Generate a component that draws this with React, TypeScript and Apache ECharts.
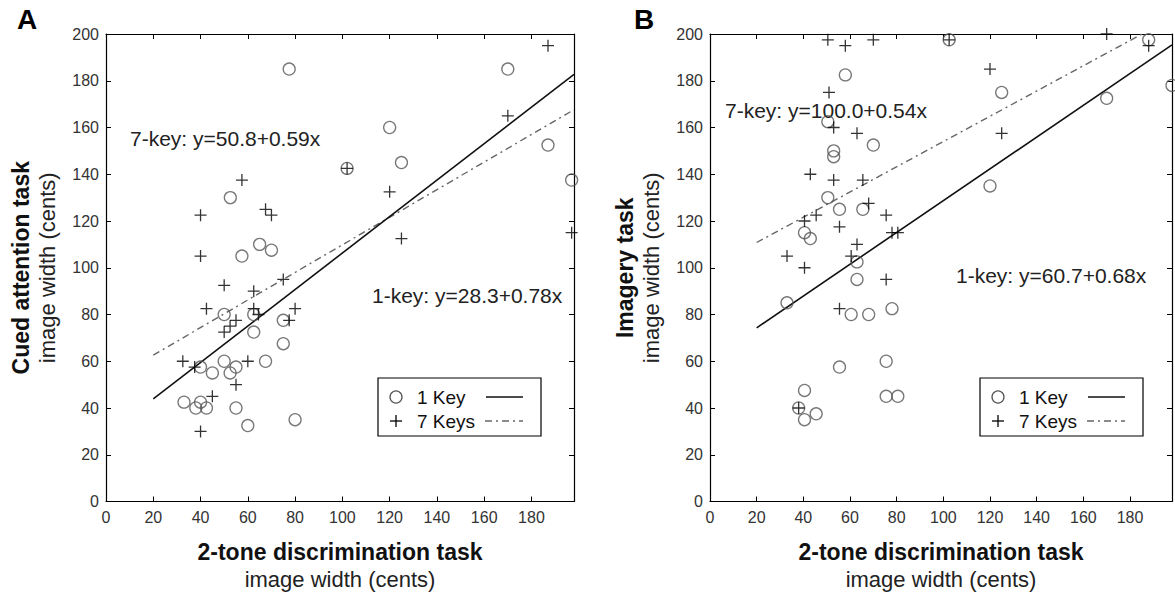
import React, { useEffect, useRef } from "react";
import * as echarts from "echarts";

const FONT = '"Liberation Sans", Arial, Helvetica, sans-serif';

// Panel A: Cued attention task vs 2-tone discrimination
const aOneKey: number[][] = [
  [77.5, 185], [52.6, 130], [65, 110], [70, 107.5], [57.5, 105], [102, 142.5],
  [50, 80], [62.5, 80], [62.5, 72.5], [75, 77.5], [75, 67.5], [50, 60],
  [40, 57.5], [45, 55], [52.5, 55], [55, 57.5], [67.5, 60], [33, 42.5],
  [38, 40], [40, 42.5], [42.5, 40], [55, 40], [60, 32.5], [80, 35],
  [120, 160], [125, 145], [170, 185], [187, 152.5], [197, 137.5],
];
const aSevenKeys: number[][] = [
  [57.5, 137.5], [40, 122.5], [67.5, 125], [70, 122.5], [40, 105], [50, 92.5],
  [62.5, 90], [75, 95], [42.5, 82.5], [62.5, 82.5], [64.5, 80], [80, 82.5],
  [77.5, 77.5], [55, 77.5], [52.5, 75], [50, 72.5], [32.5, 60], [37.5, 57.5],
  [60, 60], [55, 50], [45, 45], [40, 30], [102, 142.5], [120, 132.5],
  [125, 112.5], [170, 165], [187, 195], [197, 115],
];
// Panel B: Imagery task vs 2-tone discrimination
const bOneKey: number[][] = [
  [58, 182.5], [50.5, 162.5], [70, 152.5], [53, 150], [53, 147.5], [50.5, 130],
  [55.5, 125], [65.5, 125], [40.5, 115], [43, 112.5], [63, 102.5], [63, 95],
  [33, 85], [60.5, 80], [68, 80], [78, 82.5], [75.5, 60], [55.5, 57.5],
  [40.5, 47.5], [38, 40], [40.5, 35], [45.5, 37.5], [75.5, 45], [80.5, 45],
  [102.5, 197.5], [120, 135], [125, 175], [170, 172.5], [188, 197.5], [198, 178],
];
const bSevenKeys: number[][] = [
  [50.5, 197.5], [58, 195], [70, 197.5], [51, 175], [53, 160], [63, 157.5],
  [43, 140], [53, 137.5], [65.5, 137.5], [68, 127.5], [75.5, 122.5], [45.5, 122.5],
  [40.5, 120], [55.5, 117.5], [78, 115], [80.5, 115], [33, 105], [60.5, 105],
  [63, 110], [40.5, 100], [75.5, 95], [55.5, 82.5], [38, 40], [102.5, 197.5],
  [120, 185], [125, 157.5], [170, 200], [188, 195],
];

// Regression fits [intercept, slope] as printed in the figure
const aFitOne = [28.3, 0.78];
const aFitSeven = [50.8, 0.59];
const bFitOne = [60.7, 0.68];
const bFitSeven = [100.0, 0.54];
const fitRange = [20, 198];

const xTitle = ["2-tone discrimination task", "image width (cents)"];
const yTitles = [
  ["Cued attention task", "image width (cents)"],
  ["Imagery task", "image width (cents)"],
];
const fitTexts = [
  ["7-key: y=50.8+0.59x", "1-key: y=28.3+0.78x"],
  ["7-key: y=100.0+0.54x", "1-key: y=60.7+0.68x"],
];
const panelLetters = ["A", "B"];
const legendNames = ["1 Key", "7 Keys"];

const PLUS = "path://M6,0 L6,12 M0,6 L12,6";

function fitLine(p: number[]) {
  return fitRange.map((x) => [x, p[0] + p[1] * x]);
}

export default function App() {
  const ref = useRef<HTMLDivElement>(null);
  useEffect(() => {
    if (!ref.current) return;
    const chart = echarts.init(ref.current, null, { renderer: "svg" });
    const axisLine = { show: true, onZero: false, lineStyle: { color: "#000", width: 1.2 } };
    const tick = { show: true, inside: true, length: 5, lineStyle: { color: "#000", width: 1 } };
    const grids = [
      { left: 106, top: 34, width: 468, height: 468 },
      { left: 710, top: 34, width: 468, height: 468 },
    ];
    const rich = {
      b: { fontFamily: FONT, fontWeight: "bold", fontSize: 23, color: "#111", lineHeight: 27 },
      n: { fontFamily: FONT, fontSize: 22, color: "#222", lineHeight: 27 },
    };
    const xAxes: any[] = [];
    const yAxes: any[] = [];
    [0, 1].forEach((g) => {
      xAxes.push({
        gridIndex: g, type: "value", min: 0, max: 198, interval: 20, position: "bottom",
        axisLine, axisTick: tick, splitLine: { show: false },
        axisLabel: {
          fontFamily: FONT, fontSize: 16, color: "#333", margin: 8,
          formatter: (v: number) => (v % 20 === 0 ? String(v) : ""),
        },
        name: `{b|${xTitle[0]}}\n{n|${xTitle[1]}}`,
        nameLocation: "middle", nameGap: 37, nameTextStyle: { rich },
      });
      xAxes.push({
        gridIndex: g, type: "value", min: 0, max: 198, interval: 20, position: "top",
        axisLine, axisTick: tick, splitLine: { show: false }, axisLabel: { show: false },
      });
      yAxes.push({
        gridIndex: g, type: "value", min: 0, max: 200, interval: 20, position: "left",
        axisLine, axisTick: tick, splitLine: { show: false },
        axisLabel: { fontFamily: FONT, fontSize: 16, color: "#333", margin: 7 },
        name: `{b|${yTitles[g][0]}}\n{n|${yTitles[g][1]}}`,
        nameLocation: "middle", nameGap: 45, nameTextStyle: { rich },
      });
      yAxes.push({
        gridIndex: g, type: "value", min: 0, max: 200, interval: 20, position: "right",
        axisLine, axisTick: tick, splitLine: { show: false }, axisLabel: { show: false },
      });
    });

    const circleStyle = { color: "rgba(0,0,0,0)", borderColor: "#555", borderWidth: 1.3 };
    const plusStyle = { color: "rgba(0,0,0,0)", borderColor: "#000", borderWidth: 1.3 };
    const panels = [
      { one: aOneKey, seven: aSevenKeys, f1: aFitOne, f7: aFitSeven },
      { one: bOneKey, seven: bSevenKeys, f1: bFitOne, f7: bFitSeven },
    ];
    const series: any[] = [];
    panels.forEach((p, g) => {
      series.push({
        type: "line", xAxisIndex: g * 2, yAxisIndex: g * 2, data: fitLine(p.f7),
        showSymbol: false, symbol: "none", clip: true,
        lineStyle: { color: "#666", width: 1.4, type: [7, 4, 2, 4] }, z: 2,
      });
      series.push({
        type: "line", xAxisIndex: g * 2, yAxisIndex: g * 2, data: fitLine(p.f1),
        showSymbol: false, symbol: "none", clip: true,
        lineStyle: { color: "#111", width: 1.6 }, z: 2,
      });
      series.push({
        type: "scatter", xAxisIndex: g * 2, yAxisIndex: g * 2, data: p.one,
        symbol: "circle", symbolSize: 12, itemStyle: circleStyle, z: 3,
      });
      series.push({
        type: "scatter", xAxisIndex: g * 2, yAxisIndex: g * 2, data: p.seven,
        symbol: PLUS, symbolSize: 12, itemStyle: plusStyle, z: 3,
      });
    });

    const graphics: any[] = [];
    const letterPos = [[27, 19], [644, 19]];
    panelLetters.forEach((L, i) => {
      graphics.push({
        type: "text", x: letterPos[i][0], y: letterPos[i][1],
        style: { text: L, fontFamily: FONT, fontWeight: "bold", fontSize: 28, fill: "#000", align: "center", verticalAlign: "middle" },
      });
    });
    const fitPos = [
      [[130, 138], [372, 295]],
      [[725, 110], [956, 275]],
    ];
    fitTexts.forEach((pair, g) => {
      pair.forEach((t, k) => {
        graphics.push({
          type: "text", x: fitPos[g][k][0], y: fitPos[g][k][1],
          style: { text: t, fontFamily: FONT, fontSize: 21, fill: "#222", align: "left", verticalAlign: "middle" },
        });
      });
    });
    const legendLeft = [378, 980];
    legendLeft.forEach((lx) => {
      const ly = 378;
      graphics.push({
        type: "rect", shape: { x: lx, y: ly, width: 163, height: 58 },
        style: { fill: "#fff", stroke: "#000", lineWidth: 1.2 }, z: 10,
      });
      graphics.push({
        type: "circle", shape: { cx: lx + 18, cy: ly + 19, r: 6 },
        style: { fill: "none", stroke: "#555", lineWidth: 1.3 }, z: 11,
      });
      graphics.push({
        type: "line", shape: { x1: lx + 12, y1: ly + 43, x2: lx + 24, y2: ly + 43 },
        style: { stroke: "#000", lineWidth: 1.3 }, z: 11,
      });
      graphics.push({
        type: "line", shape: { x1: lx + 18, y1: ly + 37, x2: lx + 18, y2: ly + 49 },
        style: { stroke: "#000", lineWidth: 1.3 }, z: 11,
      });
      legendNames.forEach((n, k) => {
        graphics.push({
          type: "text", x: lx + 39, y: ly + 19 + k * 24, z: 11,
          style: { text: n, fontFamily: FONT, fontSize: 19, fill: "#111", align: "left", verticalAlign: "middle" },
        });
      });
      graphics.push({
        type: "line", shape: { x1: lx + 108, y1: ly + 19, x2: lx + 145, y2: ly + 19 },
        style: { stroke: "#111", lineWidth: 1.6 }, z: 11,
      });
      graphics.push({
        type: "line", shape: { x1: lx + 107, y1: ly + 43, x2: lx + 145, y2: ly + 43 },
        style: { stroke: "#666", lineWidth: 1.4, lineDash: [7, 4, 2, 4] }, z: 11,
      });
    });

    chart.setOption({
      animation: false,
      backgroundColor: "#fff",
      grid: grids,
      xAxis: xAxes,
      yAxis: yAxes,
      series,
      graphic: graphics,
    });
    return () => chart.dispose();
  }, []);

  return (
    <div style={{ position: "fixed", left: 0, top: 0, width: 1175, height: 595, overflow: "hidden", background: "#fff" }}>
      <div ref={ref} style={{ width: 1175, height: 595 }} />
    </div>
  );
}
